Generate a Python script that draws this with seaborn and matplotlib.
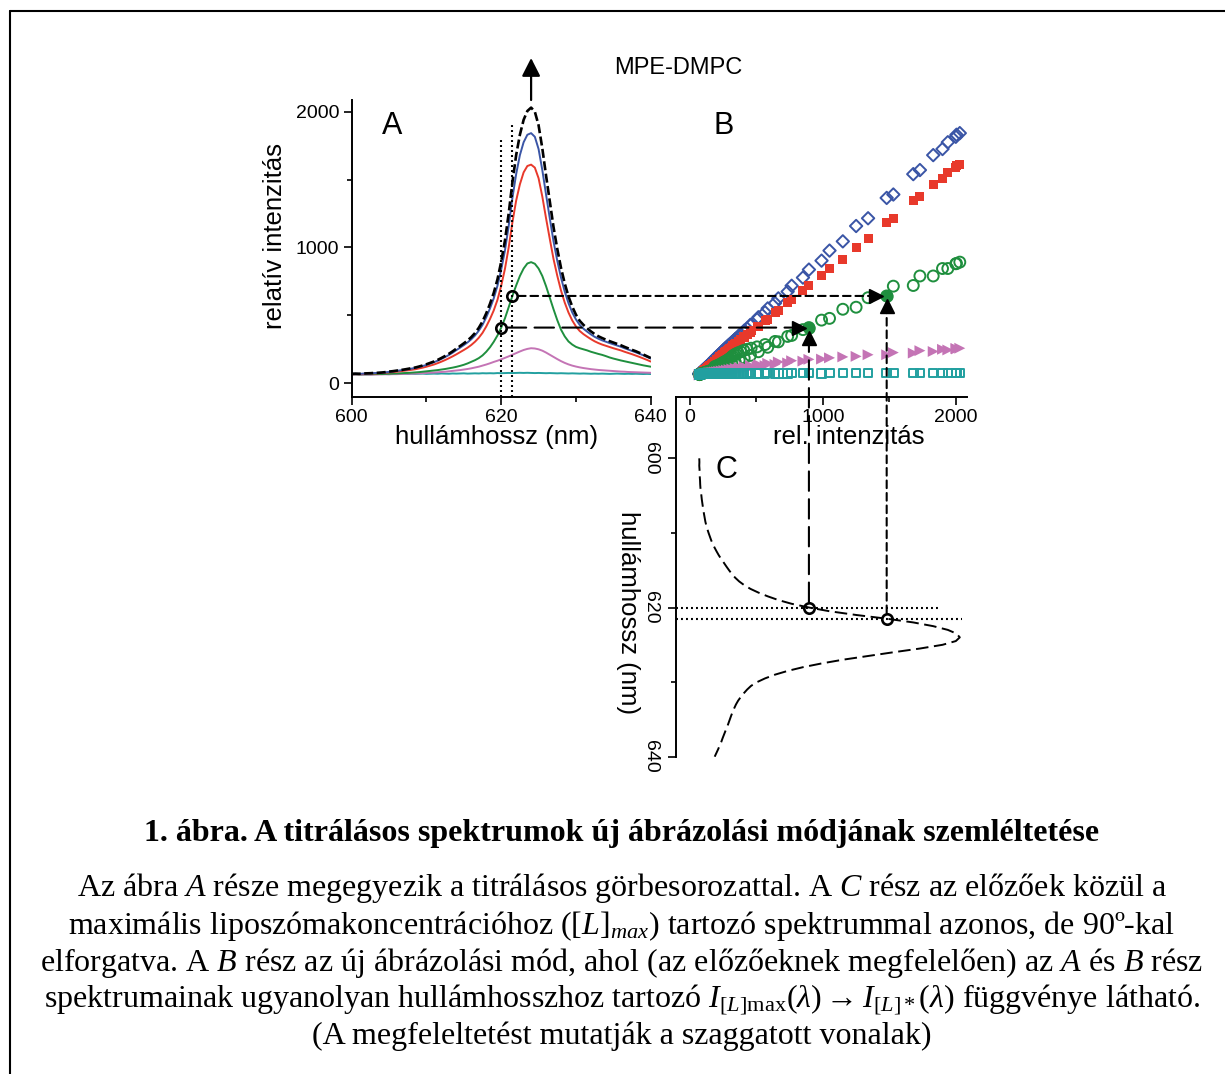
import numpy as np
import pandas as pd
import matplotlib
matplotlib.use('Agg')
import matplotlib.pyplot as plt
import seaborn as sns
from matplotlib.patches import ConnectionPatch
from matplotlib.lines import Line2D

# wavelength grid of the spectra (nm)
wavelength = np.arange(600, 640.5, 0.5)

# titration spectra, relative intensity
i_lmax = [70, 71, 70, 72, 73, 74, 76, 77, 79, 82,
          86, 89, 93, 97, 101, 106, 111, 116, 123, 131,
          140, 150, 160, 172, 186, 201, 217, 235, 255, 274,
          294, 315, 340, 370, 408, 455, 515, 585, 665, 765,
          895, 1050, 1250, 1480, 1680, 1830, 1940, 2005, 2030, 2000,
          1900, 1730, 1530, 1340, 1150, 990, 850, 735, 640, 565,
          505, 460, 430, 405, 382, 362, 346, 333, 321, 310,
          300, 290, 280, 268, 257, 246, 236, 224, 212, 199,
          186]
i_blue = [68, 70, 69, 71, 72, 72, 75, 76, 78, 80,
          84, 87, 91, 95, 99, 103, 108, 113, 120, 127,
          135, 145, 155, 166, 179, 193, 208, 225, 244, 262,
          281, 301, 324, 352, 387, 430, 486, 551, 625, 718,
          837, 977, 1158, 1365, 1540, 1680, 1775, 1830, 1842, 1815,
          1725, 1570, 1390, 1215, 1045, 903, 778, 675, 590, 522,
          470, 430, 402, 380, 360, 342, 328, 316, 306, 296,
          287, 278, 269, 258, 248, 238, 228, 217, 206, 194,
          182]
i_red = [66, 68, 67, 69, 70, 71, 72, 73, 75, 77,
         80, 82, 85, 88, 92, 95, 99, 103, 109, 115,
         122, 130, 138, 148, 159, 171, 184, 198, 213, 229,
         245, 262, 282, 306, 335, 371, 418, 473, 536, 614,
         718, 842, 1000, 1185, 1345, 1465, 1553, 1600, 1610, 1588,
         1510, 1375, 1215, 1063, 915, 792, 683, 594, 521, 463,
         418, 385, 362, 343, 325, 309, 296, 285, 276, 267,
         258, 250, 242, 232, 223, 214, 204, 194, 183, 172,
         160]
i_green = [65, 66, 65, 66, 66, 67, 67, 68, 68, 69,
           70, 71, 72, 73, 75, 76, 78, 80, 82, 85,
           88, 91, 94, 97, 101, 105, 110, 115, 121, 128,
           136, 146, 158, 170, 185, 205, 232, 265, 305, 352,
           410, 478, 560, 643, 720, 790, 845, 882, 892, 880,
           845, 790, 715, 630, 545, 465, 395, 345, 308, 285,
           268, 258, 250, 242, 232, 224, 216, 209, 200, 190,
           182, 175, 168, 162, 156, 150, 144, 138, 132, 127,
           122]
i_pink = [62, 63, 62, 63, 64, 63, 64, 65, 65, 66,
          66, 67, 67, 68, 69, 70, 71, 72, 73, 74,
          76, 78, 79, 81, 83, 85, 88, 91, 94, 97,
          101, 105, 110, 116, 122, 130, 138, 147, 157, 166,
          176, 187, 198, 210, 222, 234, 245, 253, 258, 256,
          250, 240, 226, 210, 194, 178, 163, 150, 139, 130,
          123, 117, 112, 108, 104, 101, 98, 96, 94, 92,
          90, 88, 86, 85, 83, 82, 81, 80, 79, 78,
          77]
i_teal = [66, 67, 66, 68, 67, 66, 68, 67, 69, 68,
          67, 69, 68, 70, 69, 68, 70, 69, 70, 71,
          69, 70, 71, 70, 72, 71, 70, 72, 71, 72,
          73, 71, 72, 73, 72, 74, 73, 74, 73, 75,
          74, 75, 76, 75, 76, 77, 76, 77, 76, 75,
          76, 75, 74, 75, 74, 73, 74, 73, 72, 73,
          72, 71, 72, 71, 70, 71, 70, 71, 70, 69,
          70, 71, 70, 69, 70, 69, 70, 69, 68, 69,
          68]

series_names = ['teal', 'pink', 'green', 'red', 'blue']
series_vals = [i_teal, i_pink, i_green, i_red, i_blue]
colors = {'blue': '#3a55a6', 'red': '#e8392b', 'green': '#1f8f3e',
          'pink': '#c474b5', 'teal': '#22a0a0'}

# wavelengths picked out by the guide lines
mark_wl = [620.0, 621.5]

sns.set_style('ticks')
plt.rcParams['font.family'] = ['Liberation Sans', 'DejaVu Sans']
for key in ('text.color', 'axes.labelcolor', 'xtick.color', 'ytick.color',
            'axes.edgecolor'):
    plt.rcParams[key] = 'black'
plt.rcParams['lines.scale_dashes'] = False
plt.rcParams['mathtext.fontset'] = 'custom'
plt.rcParams['mathtext.rm'] = 'Liberation Serif'
plt.rcParams['mathtext.it'] = 'Liberation Serif:italic'
plt.rcParams['mathtext.bf'] = 'Liberation Serif:bold'

W, H = 1225, 1074
fig = plt.figure(figsize=(W / 100, H / 100), dpi=100)


def box(x0, y0, x1, y1):
    return [x0 / W, 1 - y1 / H, (x1 - x0) / W, (y1 - y0) / H]


axA = fig.add_axes(box(351.7, 100, 650.7, 396.7))
axB = fig.add_axes(box(676, 100, 966.7, 396.7))
axC = fig.add_axes(box(676, 396.7, 966.7, 756.7))
for ax in (axA, axB, axC):
    ax.patch.set_alpha(0)

# ---- panel A: spectra
dfA = pd.concat([pd.DataFrame({'wl': wavelength, 'I': v, 'series': n})
                 for n, v in zip(series_names, series_vals)])
sns.lineplot(data=dfA, x='wl', y='I', hue='series', palette=colors,
             estimator=None, legend=False, lw=1.4, ax=axA)
sns.lineplot(x=wavelength, y=i_lmax, color='k', lw=1.9, estimator=None,
             linestyle=(0, (6.5, 2.5)), ax=axA)

ylim = (-99, 2086)
axA.set_xlim(600, 640)
axA.set_ylim(*ylim)
axA.set_xticks([600, 620, 640])
axA.set_xticks([610, 630], minor=True)
axA.set_yticks([0, 1000, 2000])
axA.set_yticks([500, 1500], minor=True)
axA.set_xlabel('')
axA.set_ylabel('')
sns.despine(ax=axA)

# ---- panel B: intensity vs. intensity of the [L]max spectrum
b_styles = [('blue', 'D', 40, False), ('red', 's', 42, True),
            ('green', 'o', 62, False), ('pink', '>', 62, True),
            ('teal', 's', 38, False)]
vals = dict(zip(series_names, series_vals))
for name, mk, size, filled in b_styles:
    if filled:
        sns.scatterplot(x=i_lmax, y=vals[name], marker=mk, s=size,
                        color=colors[name], edgecolor='none', ax=axB)
    else:
        sns.scatterplot(x=i_lmax, y=vals[name], marker=mk, s=size,
                        facecolors='none', edgecolor=colors[name],
                        linewidth=1.4, ax=axB)

xlim = (-105, 2082)
axB.set_xlim(*xlim)
axB.set_ylim(*ylim)
axB.set_xticks([0, 1000, 2000])
axB.set_xticks([500, 1500], minor=True)
axB.set_yticks([])
for s in ('left', 'top', 'right'):
    axB.spines[s].set_visible(False)

# ---- panel C: [L]max spectrum turned by 90 degrees
sns.lineplot(x=i_lmax, y=wavelength, sort=False, estimator=None, color='k',
             lw=1.4, linestyle=(0, (9, 4)), ax=axC)
axC.set_xlim(*xlim)
axC.set_ylim(640, 591.74)
axC.set_yticks([600, 620, 640])
axC.set_yticks([610, 630], minor=True)
axC.set_xticks([])
axC.set_xlabel('')
for s in ('bottom', 'top', 'right'):
    axC.spines[s].set_visible(False)

for ax in (axA, axB, axC):
    for sp in ax.spines.values():
        sp.set_linewidth(1.4)
    ax.tick_params(which='major', length=6, width=1.2, labelsize=14, pad=3,
                   direction='out')
    ax.tick_params(which='minor', length=3.5, width=1.2, direction='out')
axC.tick_params(axis='y', labelrotation=-90, pad=6)
for lbl in axC.get_yticklabels():
    lbl.set_va('center')

# ---- guide lines
long_dash = (0, (14, 6))
short_dash = (0, (5.5, 3.5))
dotted = (0, (1.4, 2.2))
mark_ls = [long_dash, short_dash]
dot_top_A = [1815, 1910]
dot_end_C = [1880, 2050]
for k, wl_k in enumerate(mark_wl):
    j = int(np.where(wavelength == wl_k)[0][0])
    g = i_green[j]
    m = i_lmax[j]
    axA.plot([wl_k, wl_k], [ylim[0], dot_top_A[k]], color='k', lw=1.5, ls=dotted)
    axA.plot(wl_k, g, 'o', mfc='none', mec='k', ms=7.5, mew=1.9, zorder=6)
    axB.scatter(m, g, s=62, color=colors['green'], zorder=6)
    axB.plot(m - 78, g, '>', ms=10.5, color='k', zorder=7, clip_on=False)
    axB.plot(m, g - 75, '^', ms=10.5, color='k', zorder=7, clip_on=False)
    axC.plot([xlim[0], dot_end_C[k]], [wl_k, wl_k], color='k', lw=1.5, ls=dotted)
    axC.plot(m, wl_k, 'o', mfc='none', mec='k', ms=7.5, mew=1.9, zorder=6)
    con = ConnectionPatch(xyA=(wl_k, g), coordsA=axA.transData,
                          xyB=(m - 78, g), coordsB=axB.transData,
                          color='k', lw=1.5, linestyle=mark_ls[k], shrinkA=4)
    fig.add_artist(con)
    con = ConnectionPatch(xyA=(m, wl_k), coordsA=axC.transData,
                          xyB=(m, g - 75), coordsB=axB.transData,
                          color='k', lw=1.5, linestyle=mark_ls[k], shrinkA=4)
    fig.add_artist(con)

# arrow over the peak of panel A
axA.annotate('', xy=(624, 2395), xytext=(624, 2086), annotation_clip=False,
             arrowprops=dict(arrowstyle='-|>,head_length=0.55,head_width=0.28',
                             mutation_scale=20, color='k', lw=1.6,
                             shrinkA=0, shrinkB=0))

# ---- texts
axA.text(0.135, 0.912, 'A', transform=axA.transAxes, fontsize=22,
         ha='center', va='center')
axB.text(0.165, 0.912, 'B', transform=axB.transAxes, fontsize=22,
         ha='center', va='center')
axC.text(0.175, 0.796, 'C', transform=axC.transAxes, fontsize=22,
         ha='center', va='center')
axA.text(0.486, -0.136, 'hullámhossz (nm)', transform=axA.transAxes,
         fontsize=18.5, ha='center', va='center')
axB.text(0.595, -0.136, 'rel. intenzitás', transform=axB.transAxes,
         fontsize=18.5, ha='center', va='center')
axA.text(-0.2565, 0.5416, 'relatív intenzitás', transform=axA.transAxes,
         fontsize=18.5, rotation=90, ha='center', va='center')
axC.text(-0.165, 0.399, 'hullámhossz (nm)', transform=axC.transAxes,
         fontsize=18.5, rotation=-90, ha='center', va='center')
fig.text(678 / W, 1 - 68 / H, 'MPE-DMPC', fontsize=17, ha='center', va='center')

# ---- caption
serif = ['Liberation Serif', 'DejaVu Serif']
fig.text(622 / W, 1 - 833 / H,
         '1. ábra. A titrálásos spektrumok új ábrázolási módjának szemléltetése',
         family=serif, weight='bold', fontsize=23, ha='center', va='center')
caption = [
    r'Az ábra $A$ része megegyezik a titrálásos görbesorozattal. A $C$ rész az előzőek közül a',
    r'maximális liposzómakoncentrációhoz ($[L]_{max}$) tartozó spektrummal azonos, de 90º-kal',
    r'elforgatva. A $B$ rész az új ábrázolási mód, ahol (az előzőeknek megfelelően) az $A$ és $B$ rész',
    r'spektrumainak ugyanolyan hullámhosszhoz tartozó $I_{[L]\mathrm{max}}(\lambda)\rightarrow I_{[L]*}(\lambda)$ függvénye látható.',
    '(A megfeleltetést mutatják a szaggatott vonalak)',
]
cap_y = [888, 926, 963, 1000, 1036]
for line, y in zip(caption, cap_y):
    fig.text(622 / W, 1 - y / H, line, family=serif, fontsize=23,
             ha='center', va='center')

# frame
fig.add_artist(Line2D([10 / W, 1], [1 - 11 / H, 1 - 11 / H], color='k', lw=1.5,
                      transform=fig.transFigure))
fig.add_artist(Line2D([10 / W, 10 / W], [0, 1 - 11 / H], color='k', lw=1.5,
                      transform=fig.transFigure))

fig.savefig('out.png', dpi=100)
